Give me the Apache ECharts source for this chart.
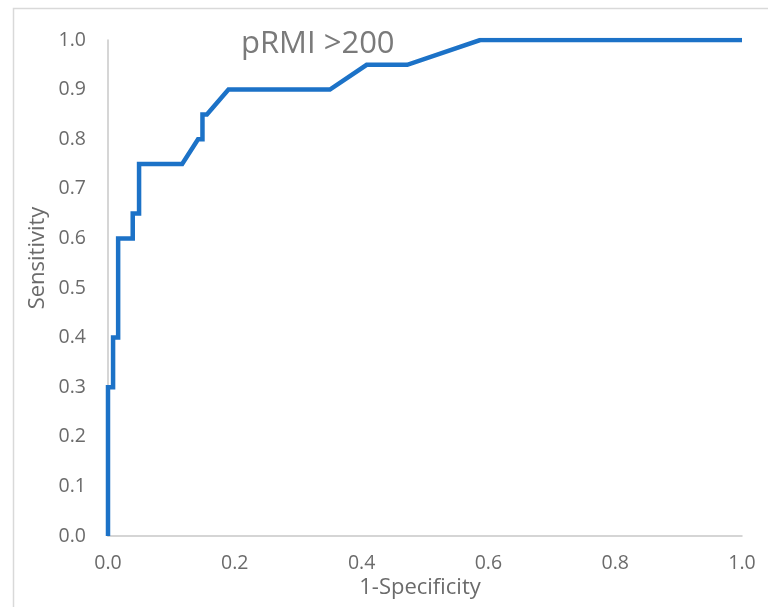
<!DOCTYPE html>
<html>
<head>
<meta charset="utf-8">
<script src="https://cdn.jsdelivr.net/npm/echarts@6/dist/echarts.min.js"></script>
<style>
html,body{margin:0;padding:0;background:#fff;}
#chart{width:768px;height:607px;}
</style>
</head>
<body>
<div id="chart"></div>
<script>
// 1-Specificity (x) and Sensitivity (y) values of the ROC curve
var fpr = [0, 0, 0.008, 0.008, 0.016, 0.016, 0.039, 0.039, 0.049, 0.049, 0.117, 0.142, 0.149, 0.149, 0.156, 0.19, 0.35, 0.408, 0.472, 0.587, 1.0];
var tpr = [0, 0.3, 0.3, 0.4, 0.4, 0.6, 0.6, 0.65, 0.65, 0.75, 0.75, 0.8, 0.8, 0.85, 0.85, 0.9, 0.9, 0.95, 0.95, 1.0, 1.0];
var titleText = 'pRMI >200';
var xName = '1-Specificity';
var yName = 'Sensitivity';

var pts = fpr.map(function (v, i) { return [v, tpr[i]]; });
var chart = echarts.init(document.getElementById('chart'));
var font = '"Open Sans", "Noto Sans", sans-serif';
chart.setOption({
  animation: false,
  backgroundColor: '#ffffff',
  grid: { left: 108, right: 26, top: 40, bottom: 71, containLabel: false },
  title: {
    text: titleText,
    left: 236, top: 24,
    textStyle: { fontFamily: font, fontSize: 31, fontWeight: 'normal', color: '#7a7a7a' }
  },
  xAxis: {
    type: 'value', min: 0, max: 1, interval: 0.2,
    axisLine: { show: true, lineStyle: { color: '#c8c8c8', width: 1.5 } },
    axisTick: { show: false },
    splitLine: { show: false },
    axisLabel: { margin: 17, fontFamily: font, fontSize: 19.5, color: '#6b6b6b',
      formatter: function (v) { return v.toFixed(1); } }
  },
  yAxis: {
    type: 'value', min: 0, max: 1, interval: 0.1,
    axisLine: { show: true, lineStyle: { color: '#c8c8c8', width: 1.5 } },
    axisTick: { show: false },
    splitLine: { show: false },
    axisLabel: { margin: 22, fontFamily: font, fontSize: 19.5, color: '#6b6b6b',
      formatter: function (v) { return v.toFixed(1); } }
  },
  graphic: [
    { type: 'rect', silent: true, z: -1,
      shape: { x: 13.5, y: 8.5, width: 800, height: 700 },
      style: { fill: 'none', stroke: '#d9d9d9', lineWidth: 1.5 } },
    { type: 'text', x: 420, y: 588,
      style: { text: xName, fontFamily: font, fontSize: 22, fill: '#6b6b6b',
        align: 'center', verticalAlign: 'middle' } },
    { type: 'text', x: 38, y: 258, rotation: Math.PI / 2,
      style: { text: yName, fontFamily: font, fontSize: 22, fill: '#6b6b6b',
        align: 'center', verticalAlign: 'middle' } }
  ],
  series: [{
    type: 'line',
    data: pts,
    showSymbol: false,
    symbol: 'none',
    lineStyle: { color: '#1c72c7', width: 4.5, join: 'miter' },
    z: 3
  }]
});
</script>
</body>
</html>
